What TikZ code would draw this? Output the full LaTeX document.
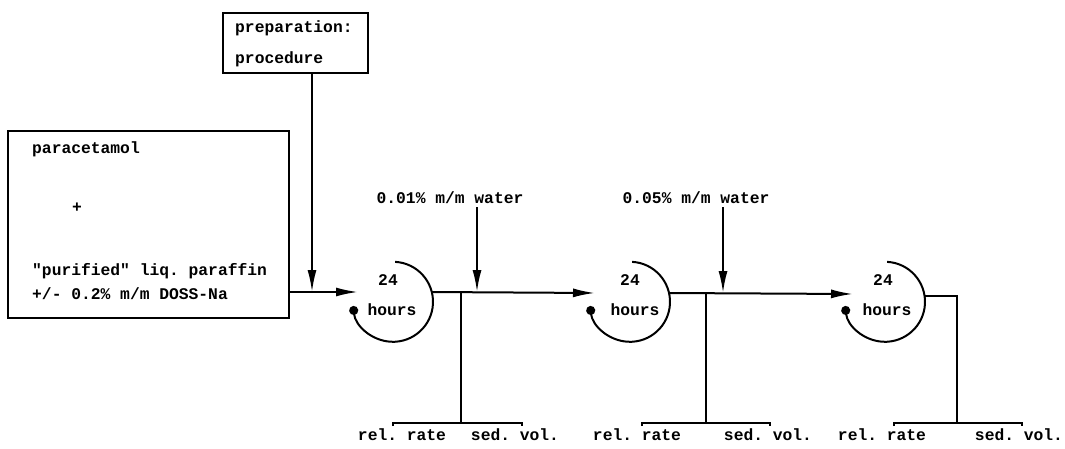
\documentclass[tikz,border=0pt]{standalone}
\usepackage{fontspec}
\setmonofont{Liberation Mono}
\usetikzlibrary{arrows.meta}
\begin{document}
\begin{tikzpicture}[x=1pt,y=-1pt,
  ln/.style={line width=2pt},
  arr/.style={ln,-{Latex[length=22pt,width=9pt]}},
  carr/.style={line width=2pt,-{Circle[length=9pt]}},
  txt/.style={font=\ttfamily\bfseries\fontsize{16.3}{18}\selectfont, inner sep=0pt},
  boxst/.style={draw, line width=2pt, inner sep=0pt},
  circ/.style={circle, minimum size=80pt, inner sep=0pt}]
\useasboundingbox (0,0) rectangle (1065,449);
% boxes
\node[boxst, minimum width=145pt, minimum height=60pt] (prep) at (295.5,43) {};
\node[txt, anchor=west] (prepa) at (235,28) {preparation:};
\node[txt, anchor=west] (prepb) at (235,59) {procedure};
\node[boxst, minimum width=281pt, minimum height=187pt] (para) at (148.5,224.5) {};
\node[txt, anchor=west] (pa) at (32,149) {paracetamol};
\node[txt] (pplus) at (77,208) {+};
\node[txt, anchor=west] (pb) at (32,271) {"purified" liq. paraffin};
\node[txt, anchor=west] (pc) at (32,294) {+/- 0.2\% m/m DOSS-Na};
% circles
\node[circ] (c1) at (393,302) {};
\node[circ] (c2) at (630,302) {};
\node[circ] (c3) at (885,302) {};
\foreach \c/\x in {c1/388,c2/630,c3/883}{
  \node[txt] (\c n) at (\x,280) {24};
}
\node[txt] (c1h) at (392,310) {hours};
\node[txt] (c2h) at (635,310) {hours};
\node[txt] (c3h) at (887,310) {hours};
\foreach \c in {c1,c2,c3}{
  \draw[carr] (\c.87) arc[start angle=87, end angle=-174, radius=40pt];
}
% coordinates
\coordinate (j1) at (312,292);
\coordinate (in1) at (358,292);
\coordinate (in2) at (595,293);
\coordinate (in3) at (853,294);
\coordinate (s1) at (461,292);
\coordinate (t1) at (477,292);
\coordinate (s2) at (706,293);
\coordinate (t2) at (723,293);
\coordinate (s3) at (957,296);
% labels water
\node[txt] (w1) at (450,198) {0.01\% m/m water};
\node[txt] (w2) at (696,198) {0.05\% m/m water};
% main flow
\draw[arr] (para.east |- j1) -- (in1);
\draw[arr] (prep.south -| j1) -- (j1);
\draw[arr] (c1.east |- s1) ++(-1.3,0) -- (in2);
\draw[arr] (c2.east |- s2) ++(-1.3,0) -- (in3);
\draw[arr] (w1.south -| t1) ++(0,3) -- (t1);
\draw[arr] (w2.south -| t2) ++(0,3) -- (t2);
\draw[ln] (c3.east |- s3) ++(-1,0) -- (s3) -- (957,423) coordinate (b3);
\draw[ln] (s1) -- (461,423) coordinate (b1);
\draw[ln] (s2) -- (706,423) coordinate (b2);
% brackets
\draw[ln] (393,426) -- (393,423) -- (522,423) -- (522,426);
\draw[ln] (642,426) -- (642,423) -- (770,423) -- (770,426);
\draw[ln] (894,426) -- (894,423) -- (1022,423) -- (1022,426);
\node[txt] (r1) at (402,435) {rel. rate};
\node[txt] (v1) at (515,435) {sed. vol.};
\node[txt] (r2) at (637,435) {rel. rate};
\node[txt] (v2) at (768,435) {sed. vol.};
\node[txt] (r3) at (882,435) {rel. rate};
\node[txt] (v3) at (1019,435) {sed. vol.};
\end{tikzpicture}
\end{document}
